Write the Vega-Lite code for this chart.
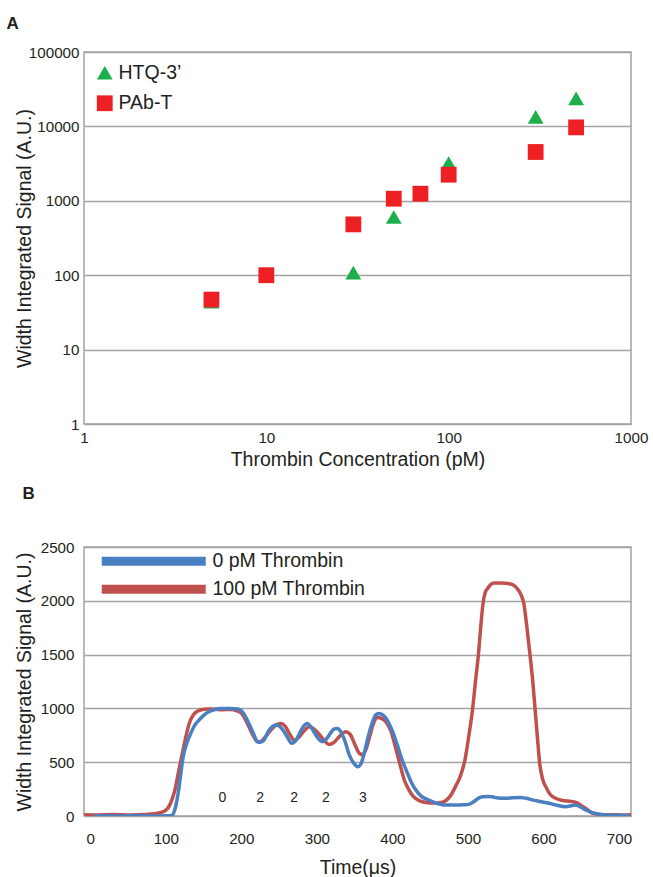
{
  "$schema": "https://vega.github.io/schema/vega-lite/v6.json",
  "padding": {"left": 5, "top": 14, "right": 5, "bottom": 5},
  "background": "white",
  "bounds": "flush",
  "spacing": 123,
  "resolve": {"scale": {"color": "independent", "shape": "independent", "x": "independent", "y": "independent"}, "legend": {"color": "independent", "shape": "independent"}},
  "config": {
    "font": "Liberation Sans",
    "view": {"stroke": "#a3a3a3", "strokeWidth": 1.5},
    "axis": {
      "labelFont": "Liberation Sans", "titleFont": "Liberation Sans",
      "labelColor": "#231f20", "titleColor": "#231f20",
      "titleFontWeight": "normal", "titleFontSize": 19.5, "labelFontSize": 15.2,
      "ticks": false, "tickSize": 0, "domain": false,
      "gridColor": "#a3a3a3", "gridWidth": 1.5, "gridOpacity": 1
    },
    "title": {"font": "Liberation Sans", "color": "#231f20"}
  },
  "datasets": {
    "thr100": [
      {"series": "100 pM Thrombin", "t": -8, "v": 12},
      {"series": "100 pM Thrombin", "t": 10, "v": 10},
      {"series": "100 pM Thrombin", "t": 30, "v": 13},
      {"series": "100 pM Thrombin", "t": 50, "v": 10},
      {"series": "100 pM Thrombin", "t": 70, "v": 14},
      {"series": "100 pM Thrombin", "t": 85, "v": 20},
      {"series": "100 pM Thrombin", "t": 95, "v": 35},
      {"series": "100 pM Thrombin", "t": 100, "v": 55},
      {"series": "100 pM Thrombin", "t": 104, "v": 86},
      {"series": "100 pM Thrombin", "t": 108, "v": 150},
      {"series": "100 pM Thrombin", "t": 112, "v": 241},
      {"series": "100 pM Thrombin", "t": 116, "v": 380},
      {"series": "100 pM Thrombin", "t": 121, "v": 551},
      {"series": "100 pM Thrombin", "t": 126, "v": 720},
      {"series": "100 pM Thrombin", "t": 131, "v": 860},
      {"series": "100 pM Thrombin", "t": 136, "v": 935},
      {"series": "100 pM Thrombin", "t": 141, "v": 970},
      {"series": "100 pM Thrombin", "t": 147, "v": 988},
      {"series": "100 pM Thrombin", "t": 155, "v": 995},
      {"series": "100 pM Thrombin", "t": 165, "v": 993},
      {"series": "100 pM Thrombin", "t": 175, "v": 988},
      {"series": "100 pM Thrombin", "t": 185, "v": 990},
      {"series": "100 pM Thrombin", "t": 195, "v": 975},
      {"series": "100 pM Thrombin", "t": 202, "v": 940},
      {"series": "100 pM Thrombin", "t": 208, "v": 860},
      {"series": "100 pM Thrombin", "t": 214, "v": 770},
      {"series": "100 pM Thrombin", "t": 220, "v": 700},
      {"series": "100 pM Thrombin", "t": 225, "v": 690},
      {"series": "100 pM Thrombin", "t": 230, "v": 720},
      {"series": "100 pM Thrombin", "t": 238, "v": 790},
      {"series": "100 pM Thrombin", "t": 246, "v": 845},
      {"series": "100 pM Thrombin", "t": 252, "v": 860},
      {"series": "100 pM Thrombin", "t": 258, "v": 835},
      {"series": "100 pM Thrombin", "t": 264, "v": 760},
      {"series": "100 pM Thrombin", "t": 270, "v": 705},
      {"series": "100 pM Thrombin", "t": 276, "v": 730},
      {"series": "100 pM Thrombin", "t": 283, "v": 790},
      {"series": "100 pM Thrombin", "t": 290, "v": 829},
      {"series": "100 pM Thrombin", "t": 296, "v": 810},
      {"series": "100 pM Thrombin", "t": 303, "v": 760},
      {"series": "100 pM Thrombin", "t": 310, "v": 700},
      {"series": "100 pM Thrombin", "t": 316, "v": 665},
      {"series": "100 pM Thrombin", "t": 322, "v": 680},
      {"series": "100 pM Thrombin", "t": 330, "v": 740},
      {"series": "100 pM Thrombin", "t": 338, "v": 783},
      {"series": "100 pM Thrombin", "t": 344, "v": 760},
      {"series": "100 pM Thrombin", "t": 350, "v": 670},
      {"series": "100 pM Thrombin", "t": 356, "v": 585},
      {"series": "100 pM Thrombin", "t": 360, "v": 570},
      {"series": "100 pM Thrombin", "t": 365, "v": 620},
      {"series": "100 pM Thrombin", "t": 370, "v": 740},
      {"series": "100 pM Thrombin", "t": 375, "v": 860},
      {"series": "100 pM Thrombin", "t": 380, "v": 915},
      {"series": "100 pM Thrombin", "t": 386, "v": 905},
      {"series": "100 pM Thrombin", "t": 392, "v": 870},
      {"series": "100 pM Thrombin", "t": 398, "v": 790},
      {"series": "100 pM Thrombin", "t": 404, "v": 640},
      {"series": "100 pM Thrombin", "t": 410, "v": 480},
      {"series": "100 pM Thrombin", "t": 416, "v": 330},
      {"series": "100 pM Thrombin", "t": 422, "v": 241},
      {"series": "100 pM Thrombin", "t": 428, "v": 180},
      {"series": "100 pM Thrombin", "t": 435, "v": 145},
      {"series": "100 pM Thrombin", "t": 445, "v": 125},
      {"series": "100 pM Thrombin", "t": 455, "v": 120},
      {"series": "100 pM Thrombin", "t": 465, "v": 125},
      {"series": "100 pM Thrombin", "t": 472, "v": 150},
      {"series": "100 pM Thrombin", "t": 478, "v": 200},
      {"series": "100 pM Thrombin", "t": 484, "v": 280},
      {"series": "100 pM Thrombin", "t": 490, "v": 370},
      {"series": "100 pM Thrombin", "t": 496, "v": 520},
      {"series": "100 pM Thrombin", "t": 501, "v": 736},
      {"series": "100 pM Thrombin", "t": 506, "v": 984},
      {"series": "100 pM Thrombin", "t": 510, "v": 1250},
      {"series": "100 pM Thrombin", "t": 514, "v": 1510},
      {"series": "100 pM Thrombin", "t": 517, "v": 1760},
      {"series": "100 pM Thrombin", "t": 520, "v": 1975},
      {"series": "100 pM Thrombin", "t": 523, "v": 2080},
      {"series": "100 pM Thrombin", "t": 526, "v": 2114},
      {"series": "100 pM Thrombin", "t": 530, "v": 2150},
      {"series": "100 pM Thrombin", "t": 535, "v": 2165},
      {"series": "100 pM Thrombin", "t": 545, "v": 2165},
      {"series": "100 pM Thrombin", "t": 553, "v": 2160},
      {"series": "100 pM Thrombin", "t": 559, "v": 2150},
      {"series": "100 pM Thrombin", "t": 565, "v": 2115},
      {"series": "100 pM Thrombin", "t": 570, "v": 2060},
      {"series": "100 pM Thrombin", "t": 574, "v": 1975},
      {"series": "100 pM Thrombin", "t": 578, "v": 1760},
      {"series": "100 pM Thrombin", "t": 582, "v": 1510},
      {"series": "100 pM Thrombin", "t": 586, "v": 1240},
      {"series": "100 pM Thrombin", "t": 589, "v": 984},
      {"series": "100 pM Thrombin", "t": 592, "v": 730},
      {"series": "100 pM Thrombin", "t": 595, "v": 489},
      {"series": "100 pM Thrombin", "t": 599, "v": 340},
      {"series": "100 pM Thrombin", "t": 603, "v": 273},
      {"series": "100 pM Thrombin", "t": 609, "v": 200},
      {"series": "100 pM Thrombin", "t": 616, "v": 165},
      {"series": "100 pM Thrombin", "t": 625, "v": 145},
      {"series": "100 pM Thrombin", "t": 638, "v": 134},
      {"series": "100 pM Thrombin", "t": 645, "v": 120},
      {"series": "100 pM Thrombin", "t": 649, "v": 103},
      {"series": "100 pM Thrombin", "t": 655, "v": 75},
      {"series": "100 pM Thrombin", "t": 660, "v": 50},
      {"series": "100 pM Thrombin", "t": 665, "v": 26},
      {"series": "100 pM Thrombin", "t": 675, "v": 15},
      {"series": "100 pM Thrombin", "t": 690, "v": 12},
      {"series": "100 pM Thrombin", "t": 705, "v": 10},
      {"series": "100 pM Thrombin", "t": 716, "v": 12}
    ],
    "thr0": [
      {"series": "0 pM Thrombin", "t": 5, "v": 0},
      {"series": "0 pM Thrombin", "t": 20, "v": 2},
      {"series": "0 pM Thrombin", "t": 40, "v": 0},
      {"series": "0 pM Thrombin", "t": 60, "v": 3},
      {"series": "0 pM Thrombin", "t": 80, "v": 0},
      {"series": "0 pM Thrombin", "t": 100, "v": 2},
      {"series": "0 pM Thrombin", "t": 108, "v": 5},
      {"series": "0 pM Thrombin", "t": 112, "v": 60},
      {"series": "0 pM Thrombin", "t": 117, "v": 241},
      {"series": "0 pM Thrombin", "t": 120, "v": 400},
      {"series": "0 pM Thrombin", "t": 123, "v": 551},
      {"series": "0 pM Thrombin", "t": 127, "v": 660},
      {"series": "0 pM Thrombin", "t": 133, "v": 768},
      {"series": "0 pM Thrombin", "t": 138, "v": 840},
      {"series": "0 pM Thrombin", "t": 144, "v": 892},
      {"series": "0 pM Thrombin", "t": 150, "v": 935},
      {"series": "0 pM Thrombin", "t": 157, "v": 969},
      {"series": "0 pM Thrombin", "t": 165, "v": 990},
      {"series": "0 pM Thrombin", "t": 173, "v": 1000},
      {"series": "0 pM Thrombin", "t": 185, "v": 1000},
      {"series": "0 pM Thrombin", "t": 195, "v": 995},
      {"series": "0 pM Thrombin", "t": 200, "v": 980},
      {"series": "0 pM Thrombin", "t": 203, "v": 953},
      {"series": "0 pM Thrombin", "t": 208, "v": 890},
      {"series": "0 pM Thrombin", "t": 212, "v": 830},
      {"series": "0 pM Thrombin", "t": 217, "v": 750},
      {"series": "0 pM Thrombin", "t": 221, "v": 690},
      {"series": "0 pM Thrombin", "t": 225, "v": 685},
      {"series": "0 pM Thrombin", "t": 230, "v": 705},
      {"series": "0 pM Thrombin", "t": 236, "v": 790},
      {"series": "0 pM Thrombin", "t": 241, "v": 830},
      {"series": "0 pM Thrombin", "t": 246, "v": 845},
      {"series": "0 pM Thrombin", "t": 251, "v": 830},
      {"series": "0 pM Thrombin", "t": 256, "v": 790},
      {"series": "0 pM Thrombin", "t": 262, "v": 720},
      {"series": "0 pM Thrombin", "t": 267, "v": 675},
      {"series": "0 pM Thrombin", "t": 272, "v": 700},
      {"series": "0 pM Thrombin", "t": 278, "v": 780},
      {"series": "0 pM Thrombin", "t": 283, "v": 840},
      {"series": "0 pM Thrombin", "t": 287, "v": 860},
      {"series": "0 pM Thrombin", "t": 292, "v": 830},
      {"series": "0 pM Thrombin", "t": 298, "v": 760},
      {"series": "0 pM Thrombin", "t": 303, "v": 710},
      {"series": "0 pM Thrombin", "t": 307, "v": 690},
      {"series": "0 pM Thrombin", "t": 312, "v": 710},
      {"series": "0 pM Thrombin", "t": 318, "v": 770},
      {"series": "0 pM Thrombin", "t": 323, "v": 810},
      {"series": "0 pM Thrombin", "t": 327, "v": 814},
      {"series": "0 pM Thrombin", "t": 332, "v": 780},
      {"series": "0 pM Thrombin", "t": 337, "v": 700},
      {"series": "0 pM Thrombin", "t": 343, "v": 565},
      {"series": "0 pM Thrombin", "t": 349, "v": 490},
      {"series": "0 pM Thrombin", "t": 354, "v": 458},
      {"series": "0 pM Thrombin", "t": 358, "v": 480},
      {"series": "0 pM Thrombin", "t": 363, "v": 590},
      {"series": "0 pM Thrombin", "t": 368, "v": 740},
      {"series": "0 pM Thrombin", "t": 373, "v": 860},
      {"series": "0 pM Thrombin", "t": 378, "v": 940},
      {"series": "0 pM Thrombin", "t": 382, "v": 953},
      {"series": "0 pM Thrombin", "t": 388, "v": 935},
      {"series": "0 pM Thrombin", "t": 394, "v": 880},
      {"series": "0 pM Thrombin", "t": 400, "v": 790},
      {"series": "0 pM Thrombin", "t": 406, "v": 670},
      {"series": "0 pM Thrombin", "t": 413, "v": 520},
      {"series": "0 pM Thrombin", "t": 420, "v": 396},
      {"series": "0 pM Thrombin", "t": 426, "v": 300},
      {"series": "0 pM Thrombin", "t": 431, "v": 241},
      {"series": "0 pM Thrombin", "t": 438, "v": 185},
      {"series": "0 pM Thrombin", "t": 448, "v": 149},
      {"series": "0 pM Thrombin", "t": 458, "v": 120},
      {"series": "0 pM Thrombin", "t": 470, "v": 102},
      {"series": "0 pM Thrombin", "t": 485, "v": 102},
      {"series": "0 pM Thrombin", "t": 495, "v": 105},
      {"series": "0 pM Thrombin", "t": 501, "v": 108},
      {"series": "0 pM Thrombin", "t": 507, "v": 130},
      {"series": "0 pM Thrombin", "t": 514, "v": 165},
      {"series": "0 pM Thrombin", "t": 519, "v": 180},
      {"series": "0 pM Thrombin", "t": 527, "v": 182},
      {"series": "0 pM Thrombin", "t": 532, "v": 178},
      {"series": "0 pM Thrombin", "t": 540, "v": 168},
      {"series": "0 pM Thrombin", "t": 550, "v": 165},
      {"series": "0 pM Thrombin", "t": 560, "v": 170},
      {"series": "0 pM Thrombin", "t": 570, "v": 172},
      {"series": "0 pM Thrombin", "t": 577, "v": 165},
      {"series": "0 pM Thrombin", "t": 585, "v": 150},
      {"series": "0 pM Thrombin", "t": 595, "v": 135},
      {"series": "0 pM Thrombin", "t": 607, "v": 118},
      {"series": "0 pM Thrombin", "t": 618, "v": 100},
      {"series": "0 pM Thrombin", "t": 629, "v": 87},
      {"series": "0 pM Thrombin", "t": 637, "v": 95},
      {"series": "0 pM Thrombin", "t": 643, "v": 103},
      {"series": "0 pM Thrombin", "t": 649, "v": 85},
      {"series": "0 pM Thrombin", "t": 656, "v": 56},
      {"series": "0 pM Thrombin", "t": 663, "v": 35},
      {"series": "0 pM Thrombin", "t": 670, "v": 22},
      {"series": "0 pM Thrombin", "t": 682, "v": 10},
      {"series": "0 pM Thrombin", "t": 700, "v": 5},
      {"series": "0 pM Thrombin", "t": 714, "v": 2}
    ],
    "peaks": [
      {"t": 175, "v": 164, "label": "0"},
      {"t": 225, "v": 164, "label": "2"},
      {"t": 270, "v": 164, "label": "2"},
      {"t": 312, "v": 164, "label": "2"},
      {"t": 361, "v": 164, "label": "3"}
    ]
  },
  "vconcat": [
    {
      "title": {"text": "A", "anchor": "start", "fontSize": 17, "fontWeight": "bold", "dx": -7.5, "offset": 12},
      "width": 547,
      "height": 372,
      "data": {"values": [
        {"series": "HTQ-3’", "conc": 5, "signal": 44},
        {"series": "HTQ-3’", "conc": 30, "signal": 108},
        {"series": "HTQ-3’", "conc": 50, "signal": 606},
        {"series": "HTQ-3’", "conc": 100, "signal": 3220},
        {"series": "HTQ-3’", "conc": 300, "signal": 13400},
        {"series": "HTQ-3’", "conc": 500, "signal": 23800},
        {"series": "PAb-T", "conc": 5, "signal": 47},
        {"series": "PAb-T", "conc": 10, "signal": 100},
        {"series": "PAb-T", "conc": 30, "signal": 482},
        {"series": "PAb-T", "conc": 50, "signal": 1067},
        {"series": "PAb-T", "conc": 70, "signal": 1245},
        {"series": "PAb-T", "conc": 100, "signal": 2243},
        {"series": "PAb-T", "conc": 300, "signal": 4530},
        {"series": "PAb-T", "conc": 500, "signal": 9700}
      ]},
      "mark": {"type": "point", "filled": true, "opacity": 1, "size": 250},
      "encoding": {
        "x": {"field": "conc", "type": "quantitative",
          "scale": {"type": "log", "domain": [1, 1000], "nice": false},
          "axis": {"title": "Thrombin Concentration (pM)", "values": [1, 10, 100, 1000], "format": "d", "grid": false, "labelPadding": 6.5, "titlePadding": 5, "labelFlush": false}},
        "y": {"field": "signal", "type": "quantitative",
          "scale": {"type": "log", "domain": [1, 100000], "nice": false},
          "axis": {"title": "Width Integrated Signal (A.U.)", "values": [1, 10, 100, 1000, 10000, 100000], "format": "d", "labelPadding": 5, "titlePadding": 5, "minExtent": 45, "maxExtent": 45, "labelFlush": false}},
        "color": {"field": "series", "type": "nominal",
          "scale": {"domain": ["HTQ-3’", "PAb-T"], "range": ["#1caf4b", "#ed2024"]},
          "legend": {"title": null, "orient": "none", "legendX": 11, "legendY": 11, "labelFontSize": 19.5, "labelColor": "#231f20", "symbolSize": 250, "rowPadding": 9.5, "labelOffset": 4, "padding": 0}},
        "shape": {"field": "series", "type": "nominal",
          "scale": {"domain": ["HTQ-3’", "PAb-T"], "range": ["triangle-up", "square"]},
          "legend": {"title": null, "orient": "none", "legendX": 11, "legendY": 11, "labelFontSize": 19.5, "labelColor": "#231f20", "symbolSize": 250, "rowPadding": 9.5, "labelOffset": 4, "padding": 0}}
      }
    },
    {
      "title": {"text": "B", "anchor": "start", "fontSize": 17, "fontWeight": "bold", "dx": 8.5, "offset": 37},
      "width": 547,
      "height": 269,
      "layer": [
        {
          "data": {"name": "thr100"},
          "mark": {"type": "line", "strokeWidth": 3.5, "interpolate": "monotone", "clip": true},
          "encoding": {
            "x": {"field": "t", "type": "quantitative",
              "scale": {"domain": [-8.3, 715.9], "nice": false, "zero": false},
              "axis": {"title": "Time(μs)", "values": [0, 100, 200, 300, 400, 500, 600, 700], "grid": false, "labelPadding": 15, "titlePadding": 12, "labelFlush": false}},
            "y": {"field": "v", "type": "quantitative",
              "scale": {"domain": [0, 2500], "nice": false},
              "axis": {"title": "Width Integrated Signal (A.U.)", "values": [0, 500, 1000, 1500, 2000, 2500], "format": "d", "labelPadding": 10, "titlePadding": 5, "minExtent": 45, "maxExtent": 45, "labelFlush": false}},
            "color": {"field": "series", "type": "nominal",
              "scale": {"domain": ["0 pM Thrombin", "100 pM Thrombin"], "range": ["#4a7fc1", "#c0504d"]},
              "legend": {"title": null, "orient": "none", "legendX": 60, "legendY": 4.5, "symbolType": "M-10.4,0H10.4", "symbolStrokeWidth": 9, "symbolSize": 100, "labelFontSize": 19.5, "labelColor": "#231f20", "rowPadding": -10.5, "labelOffset": 49, "padding": 0}}
          }
        },
        {
          "data": {"name": "thr0"},
          "mark": {"type": "line", "strokeWidth": 3.5, "interpolate": "monotone", "clip": true},
          "encoding": {
            "x": {"field": "t", "type": "quantitative"},
            "y": {"field": "v", "type": "quantitative"},
            "color": {"field": "series", "type": "nominal"}
          }
        },
        {
          "data": {"name": "peaks"},
          "mark": {"type": "text", "fontSize": 14, "color": "#231f20", "baseline": "middle", "align": "center"},
          "encoding": {
            "x": {"field": "t", "type": "quantitative"},
            "y": {"field": "v", "type": "quantitative"},
            "text": {"field": "label"}
          }
        }
      ]
    }
  ]
}
